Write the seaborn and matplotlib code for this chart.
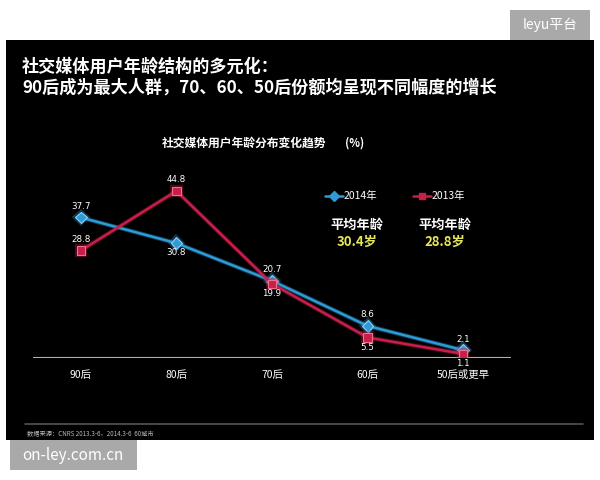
import matplotlib
matplotlib.use("Agg")
import matplotlib.pyplot as plt
import matplotlib.patheffects as pe
from matplotlib.patches import Rectangle
from matplotlib.lines import Line2D
import seaborn as sns
import pandas as pd

# 数据
categories = ["90后", "80后", "70后", "60后", "50后或更早"]
share_2014 = [37.7, 30.8, 20.7, 8.6, 2.1]
share_2013 = [28.8, 44.8, 19.9, 5.5, 1.1]
series_names = ["2014年", "2013年"]
avg_age = ["30.4岁", "28.8岁"]

df = pd.DataFrame({
    "pos": list(range(len(categories))) * 2,
    "share": share_2014 + share_2013,
    "year": [series_names[0]] * len(categories) + [series_names[1]] * len(categories),
})

sns.set_style("white")
plt.rcParams["font.family"] = ["Noto Sans CJK SC", "DejaVu Sans"]

fig = plt.figure(figsize=(6, 4.8), dpi=100)
fig.patch.set_facecolor("white")

# 黑色背景面板
fig.add_artist(Rectangle((6 / 600, 1 - 440 / 480), 588 / 600, 400 / 480,
                         transform=fig.transFigure, facecolor="black", edgecolor="none", zorder=0))

ax = fig.add_axes([33 / 600, 1 - 358 / 480, 478 / 600, 208 / 480])
ax.set_facecolor("none")

blue = "#2e9ad6"
red = "#c81e4a"
palette = {series_names[0]: blue, series_names[1]: red}
markers = {series_names[0]: "D", series_names[1]: "s"}

sns.lineplot(data=df, x="pos", y="share", hue="year", style="year", palette=palette,
             markers=markers, dashes=False, markersize=6, linewidth=1.8, ax=ax,
             legend=False, zorder=3)
for ln in ax.lines:
    c = ln.get_color()
    ln.set_path_effects([pe.Stroke(linewidth=3.2, foreground=c, alpha=0.35), pe.Normal()])
    ln.set_markeredgecolor("#f07090" if c == red else "#8fd0f0")
    ln.set_markeredgewidth(0.8)

ax.axhline(0, color="#b0b0b0", lw=1.5, zorder=2)
ax.set_xlim(-0.5, 4.5)
ax.set_ylim(0, 55.8)
ax.set_xticks([])
ax.set_yticks([])
ax.set_xlabel("")
ax.set_ylabel("")
for s in ax.spines.values():
    s.set_visible(False)

# 数值标签
above_2014 = [True, False, True, True, True]
above_2013 = [True, True, False, False, False]
for vals, above in [(share_2014, above_2014), (share_2013, above_2013)]:
    for i, v in enumerate(vals):
        ax.annotate(f"{v}", (i, v), xytext=(0, 8 if above[i] else -7), textcoords="offset points",
                    ha="center", va="center", color="white", fontsize=6.3,
                    family=["DejaVu Sans"], zorder=5)

# 类别标签
for i, c in enumerate(categories):
    ax.text(i, -4.6, c, ha="center", va="center", color="white", fontsize=7.5)

# 标题
fig.text(22 / 600, 1 - 67 / 480, "社交媒体用户年龄结构的多元化：", color="white",
         fontsize=12.3, fontweight="bold", va="center", ha="left")
fig.text(22 / 600, 1 - 88 / 480, "90后成为最大人群，70、60、50后份额均呈现不同幅度的增长",
         color="white", fontsize=12.3, fontweight="bold", va="center", ha="left")
fig.text(244 / 600, 1 - 143 / 480, "社交媒体用户年龄分布变化趋势", color="white",
         fontsize=8.5, fontweight="bold", va="center", ha="center")
fig.text(355 / 600, 1 - 143 / 480, "(%)", color="white",
         fontsize=8, fontweight="bold", va="center", ha="center")

# 图例与平均年龄
leg_x = [325, 413]
for k, name in enumerate(series_names):
    x0 = leg_x[k]
    col = blue if k == 0 else red
    mk = "D" if k == 0 else "s"
    fig.add_artist(Line2D([x0 / 600, (x0 + 18) / 600], [1 - 196 / 480] * 2, color=col, lw=1.8,
                          transform=fig.transFigure))
    fig.add_artist(Line2D([(x0 + 9) / 600], [1 - 196 / 480], color=col, marker=mk,
                          markersize=5, transform=fig.transFigure))
    fig.text((x0 + 19) / 600, 1 - 196 / 480, name, color="white", fontsize=7.5,
             va="center", ha="left")
    fig.text((x0 + 32) / 600, 1 - 225 / 480, "平均年龄", color="white", fontsize=9.5,
             fontweight="bold", va="center", ha="center")
    fig.text((x0 + 32) / 600, 1 - 242 / 480, avg_age[k], color="#e6e65a", fontsize=9.5,
             fontweight="bold", va="center", ha="center")

# 底部分隔线与数据来源
fig.add_artist(Line2D([25 / 600, 583 / 600], [1 - 424 / 480] * 2, color="#555555", lw=1.2,
                      transform=fig.transFigure))
fig.text(27 / 600, 1 - 434 / 480, "数据来源：CNRS 2013.3-6，2014.3-6  60城市", color="#bbbbbb",
         fontsize=4.5, va="center", ha="left")

# 水印
fig.add_artist(Rectangle((510 / 600, 1 - 40 / 480), 80 / 600, 30 / 480,
                         transform=fig.transFigure, facecolor="#a9a9a9", edgecolor="none"))
fig.text(550 / 600, 1 - 25 / 480, "leyu平台", color="white", fontsize=10,
         va="center", ha="center")
fig.add_artist(Rectangle((10 / 600, 1 - 470 / 480), 127 / 600, 30 / 480,
                         transform=fig.transFigure, facecolor="#a9a9a9", edgecolor="none"))
fig.text(73 / 600, 1 - 455 / 480, "on-ley.com.cn", color="white", fontsize=11,
         va="center", ha="center")

fig.savefig("out.png", dpi=100, facecolor="white")
